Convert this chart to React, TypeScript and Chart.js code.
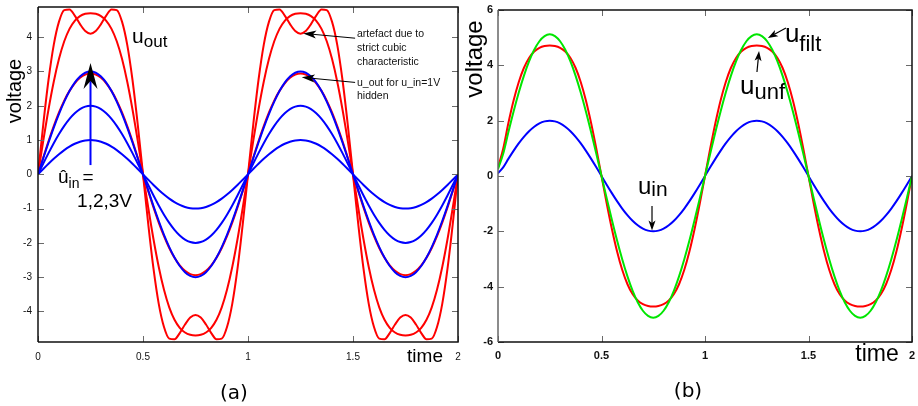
import React, { useEffect, useRef } from "react";
import { Chart, registerables } from "chart.js";

Chart.register(...registerables);

const FONT = '"Liberation Sans", Arial, Helvetica, sans-serif';

// ---------- shared axis data ----------
const TIME = [
  0, 0.025, 0.05, 0.075, 0.1, 0.125, 0.15, 0.175, 0.2, 0.225,
  0.25, 0.275, 0.3, 0.325, 0.35, 0.375, 0.4, 0.425, 0.45, 0.475,
  0.5, 0.525, 0.55, 0.575, 0.6, 0.625, 0.65, 0.675, 0.7, 0.725,
  0.75, 0.775, 0.8, 0.825, 0.85, 0.875, 0.9, 0.925, 0.95, 0.975,
  1, 1.025, 1.05, 1.075, 1.1, 1.125, 1.15, 1.175, 1.2, 1.225,
  1.25, 1.275, 1.3, 1.325, 1.35, 1.375, 1.4, 1.425, 1.45, 1.475,
  1.5, 1.525, 1.55, 1.575, 1.6, 1.625, 1.65, 1.675, 1.7, 1.725,
  1.75, 1.775, 1.8, 1.825, 1.85, 1.875, 1.9, 1.925, 1.95, 1.975,
  2,
];
const X_TICKS = [0, 0.5, 1, 1.5, 2];
const Y_TICKS_A = [-4, -3, -2, -1, 0, 1, 2, 3, 4];
const Y_TICKS_B = [-6, -4, -2, 0, 2, 4, 6];

// ---------- panel (a): inputs (blue) ----------
const A_IN_1V = [
  0, 0.156, 0.309, 0.454, 0.588, 0.707, 0.809, 0.891, 0.951, 0.988,
  1, 0.988, 0.951, 0.891, 0.809, 0.707, 0.588, 0.454, 0.309, 0.156,
  0, -0.156, -0.309, -0.454, -0.588, -0.707, -0.809, -0.891, -0.951, -0.988,
  -1, -0.988, -0.951, -0.891, -0.809, -0.707, -0.588, -0.454, -0.309, -0.156,
  0, 0.156, 0.309, 0.454, 0.588, 0.707, 0.809, 0.891, 0.951, 0.988,
  1, 0.988, 0.951, 0.891, 0.809, 0.707, 0.588, 0.454, 0.309, 0.156,
  0, -0.156, -0.309, -0.454, -0.588, -0.707, -0.809, -0.891, -0.951, -0.988,
  -1, -0.988, -0.951, -0.891, -0.809, -0.707, -0.588, -0.454, -0.309, -0.156,
  0,
];
const A_IN_2V = [
  0, 0.313, 0.618, 0.908, 1.176, 1.414, 1.618, 1.782, 1.902, 1.975,
  2, 1.975, 1.902, 1.782, 1.618, 1.414, 1.176, 0.908, 0.618, 0.313,
  0, -0.313, -0.618, -0.908, -1.176, -1.414, -1.618, -1.782, -1.902, -1.975,
  -2, -1.975, -1.902, -1.782, -1.618, -1.414, -1.176, -0.908, -0.618, -0.313,
  0, 0.313, 0.618, 0.908, 1.176, 1.414, 1.618, 1.782, 1.902, 1.975,
  2, 1.975, 1.902, 1.782, 1.618, 1.414, 1.176, 0.908, 0.618, 0.313,
  0, -0.313, -0.618, -0.908, -1.176, -1.414, -1.618, -1.782, -1.902, -1.975,
  -2, -1.975, -1.902, -1.782, -1.618, -1.414, -1.176, -0.908, -0.618, -0.313,
  0,
];
const A_IN_3V = [
  0, 0.469, 0.927, 1.362, 1.763, 2.121, 2.427, 2.673, 2.853, 2.963,
  3, 2.963, 2.853, 2.673, 2.427, 2.121, 1.763, 1.362, 0.927, 0.469,
  0, -0.469, -0.927, -1.362, -1.763, -2.121, -2.427, -2.673, -2.853, -2.963,
  -3, -2.963, -2.853, -2.673, -2.427, -2.121, -1.763, -1.362, -0.927, -0.469,
  0, 0.469, 0.927, 1.362, 1.763, 2.121, 2.427, 2.673, 2.853, 2.963,
  3, 2.963, 2.853, 2.673, 2.427, 2.121, 1.763, 1.362, 0.927, 0.469,
  0, -0.469, -0.927, -1.362, -1.763, -2.121, -2.427, -2.673, -2.853, -2.963,
  -3, -2.963, -2.853, -2.673, -2.427, -2.121, -1.763, -1.362, -0.927, -0.469,
  0,
];
// ---------- panel (a): outputs (red) ----------
const A_OUT_1V = [
  0, 0.49, 0.964, 1.406, 1.804, 2.149, 2.434, 2.656, 2.814, 2.909,
  2.94, 2.909, 2.814, 2.656, 2.434, 2.149, 1.804, 1.406, 0.964, 0.49,
  0, -0.49, -0.964, -1.406, -1.804, -2.149, -2.434, -2.656, -2.814, -2.909,
  -2.94, -2.909, -2.814, -2.656, -2.434, -2.149, -1.804, -1.406, -0.964, -0.49,
  0, 0.49, 0.964, 1.406, 1.804, 2.149, 2.434, 2.656, 2.814, 2.909,
  2.94, 2.909, 2.814, 2.656, 2.434, 2.149, 1.804, 1.406, 0.964, 0.49,
  0, -0.49, -0.964, -1.406, -1.804, -2.149, -2.434, -2.656, -2.814, -2.909,
  -2.94, -2.909, -2.814, -2.656, -2.434, -2.149, -1.804, -1.406, -0.964, -0.49,
  0,
];
const A_OUT_2V = [
  0, 0.975, 1.892, 2.701, 3.368, 3.88, 4.243, 4.477, 4.613, 4.681,
  4.7, 4.681, 4.613, 4.477, 4.243, 3.88, 3.368, 2.701, 1.892, 0.975,
  0, -0.975, -1.892, -2.701, -3.368, -3.88, -4.243, -4.477, -4.613, -4.681,
  -4.7, -4.681, -4.613, -4.477, -4.243, -3.88, -3.368, -2.701, -1.892, -0.975,
  0, 0.975, 1.892, 2.701, 3.368, 3.88, 4.243, 4.477, 4.613, 4.681,
  4.7, 4.681, 4.613, 4.477, 4.243, 3.88, 3.368, 2.701, 1.892, 0.975,
  0, -0.975, -1.892, -2.701, -3.368, -3.88, -4.243, -4.477, -4.613, -4.681,
  -4.7, -4.681, -4.613, -4.477, -4.243, -3.88, -3.368, -2.701, -1.892, -0.975,
  0,
];
const A_OUT_3V = [
  0, 1.452, 2.751, 3.776, 4.453, 4.79, 4.81, 4.629, 4.381, 4.178,
  4.1, 4.178, 4.381, 4.629, 4.81, 4.79, 4.453, 3.776, 2.751, 1.452,
  0, -1.452, -2.751, -3.776, -4.453, -4.79, -4.81, -4.629, -4.381, -4.178,
  -4.1, -4.178, -4.381, -4.629, -4.81, -4.79, -4.453, -3.776, -2.751, -1.452,
  0, 1.452, 2.751, 3.776, 4.453, 4.79, 4.81, 4.629, 4.381, 4.178,
  4.1, 4.178, 4.381, 4.629, 4.81, 4.79, 4.453, 3.776, 2.751, 1.452,
  0, -1.452, -2.751, -3.776, -4.453, -4.79, -4.81, -4.629, -4.381, -4.178,
  -4.1, -4.178, -4.381, -4.629, -4.81, -4.79, -4.453, -3.776, -2.751, -1.452,
  0,
];

// ---------- panel (b) ----------
const B_U_IN = [
  0.1, 0.313, 0.618, 0.908, 1.176, 1.414, 1.618, 1.782, 1.902, 1.975,
  2, 1.975, 1.902, 1.782, 1.618, 1.414, 1.176, 0.908, 0.618, 0.313,
  0, -0.313, -0.618, -0.908, -1.176, -1.414, -1.618, -1.782, -1.902, -1.975,
  -2, -1.975, -1.902, -1.782, -1.618, -1.414, -1.176, -0.908, -0.618, -0.313,
  0, 0.313, 0.618, 0.908, 1.176, 1.414, 1.618, 1.782, 1.902, 1.975,
  2, 1.975, 1.902, 1.782, 1.618, 1.414, 1.176, 0.908, 0.618, 0.313,
  0, -0.313, -0.618, -0.908, -1.176, -1.414, -1.618, -1.782, -1.902, -1.975,
  -2, -1.975, -1.902, -1.782, -1.618, -1.414, -1.176, -0.908, -0.618, -0.313,
  0,
];
const B_U_UNF = [
  0.3, 0.983, 1.906, 2.72, 3.39, 3.903, 4.266, 4.499, 4.635, 4.701,
  4.72, 4.701, 4.635, 4.499, 4.266, 3.903, 3.39, 2.72, 1.906, 0.983,
  0, -0.983, -1.906, -2.72, -3.39, -3.903, -4.266, -4.499, -4.635, -4.701,
  -4.72, -4.701, -4.635, -4.499, -4.266, -3.903, -3.39, -2.72, -1.906, -0.983,
  0, 0.983, 1.906, 2.72, 3.39, 3.903, 4.266, 4.499, 4.635, 4.701,
  4.72, 4.701, 4.635, 4.499, 4.266, 3.903, 3.39, 2.72, 1.906, 0.983,
  0, -0.983, -1.906, -2.72, -3.39, -3.903, -4.266, -4.499, -4.635, -4.701,
  -4.72, -4.701, -4.635, -4.499, -4.266, -3.903, -3.39, -2.72, -1.906, -0.983,
  0,
];
const B_U_FILT = [
  0.25, 0.801, 1.582, 2.325, 3.01, 3.62, 4.142, 4.562, 4.87, 5.057,
  5.12, 5.057, 4.87, 4.562, 4.142, 3.62, 3.01, 2.325, 1.582, 0.801,
  0, -0.801, -1.582, -2.325, -3.01, -3.62, -4.142, -4.562, -4.87, -5.057,
  -5.12, -5.057, -4.87, -4.562, -4.142, -3.62, -3.01, -2.325, -1.582, -0.801,
  0, 0.801, 1.582, 2.325, 3.01, 3.62, 4.142, 4.562, 4.87, 5.057,
  5.12, 5.057, 4.87, 4.562, 4.142, 3.62, 3.01, 2.325, 1.582, 0.801,
  0, -0.801, -1.582, -2.325, -3.01, -3.62, -4.142, -4.562, -4.87, -5.057,
  -5.12, -5.057, -4.87, -4.562, -4.142, -3.62, -3.01, -2.325, -1.582, -0.801,
  0,
];

const RED = "#ff0000";
const BLUE = "#0000ff";
const GREEN = "#00e600";

const pts = (ys: number[]) => TIME.map((t, i) => ({ x: t, y: ys[i] }));

// ---------- drawing helpers ----------
function arrow(ctx: any, x1: number, y1: number, x2: number, y2: number, o: any) {
  const dx = x2 - x1, dy = y2 - y1;
  const L = Math.hypot(dx, dy) || 1;
  const ux = dx / L, uy = dy / L;
  const nx = -uy, ny = ux;
  const bx = x2 - ux * o.len, by = y2 - uy * o.len;
  const mx = x2 - ux * o.len * o.notch, my = y2 - uy * o.len * o.notch;
  ctx.save();
  ctx.strokeStyle = o.line;
  ctx.lineWidth = o.lw;
  ctx.beginPath();
  ctx.moveTo(x1, y1);
  ctx.lineTo(mx, my);
  ctx.stroke();
  ctx.fillStyle = o.head;
  ctx.beginPath();
  ctx.moveTo(x2, y2);
  ctx.lineTo(bx + nx * o.hw, by + ny * o.hw);
  ctx.lineTo(mx, my);
  ctx.lineTo(bx - nx * o.hw, by - ny * o.hw);
  ctx.closePath();
  ctx.fill();
  ctx.restore();
}

function label(ctx: any, x: number, y: number, main: string, size: number, sub?: string, subSize?: number, subDy?: number) {
  ctx.save();
  ctx.fillStyle = "#000";
  ctx.textAlign = "left";
  ctx.textBaseline = "alphabetic";
  ctx.font = `${size}px ${FONT}`;
  ctx.fillText(main, x, y);
  if (sub) {
    const w = ctx.measureText(main).width;
    ctx.font = `${subSize}px ${FONT}`;
    ctx.fillText(sub, x + w, y + (subDy || 0));
  }
  ctx.restore();
}

function centered(ctx: any, s: string, x: number, y: number, size: number, rotate = false) {
  ctx.save();
  ctx.fillStyle = "#000";
  ctx.font = `${size}px ${FONT}`;
  ctx.textAlign = "center";
  ctx.textBaseline = "middle";
  ctx.translate(x, y);
  if (rotate) ctx.rotate(-Math.PI / 2);
  ctx.fillText(s, 0, 0);
  ctx.restore();
}

function framePlugin(yTicks: number[], leftColor: string) {
  return {
    id: "frame",
    afterDatasetsDraw(chart: any) {
      const { ctx, chartArea: a, scales } = chart;
      const xs = scales.x, ys = scales.y;
      ctx.save();
      ctx.strokeStyle = "#6a6a6a";
      ctx.lineWidth = 1;
      ctx.beginPath();
      for (const v of yTicks) {
        const p = Math.round(ys.getPixelForValue(v)) + 0.5;
        ctx.moveTo(a.left, p); ctx.lineTo(a.left + 6, p);
        ctx.moveTo(a.right, p); ctx.lineTo(a.right - 6, p);
      }
      for (const v of X_TICKS) {
        const p = Math.round(xs.getPixelForValue(v)) + 0.5;
        ctx.moveTo(p, a.bottom); ctx.lineTo(p, a.bottom - 6);
        ctx.moveTo(p, a.top); ctx.lineTo(p, a.top + 6);
      }
      ctx.stroke();
      ctx.lineWidth = 1.5;
      ctx.strokeStyle = "#111";
      ctx.beginPath();
      ctx.moveTo(a.left, a.top); ctx.lineTo(a.right, a.top);
      ctx.lineTo(a.right, a.bottom); ctx.lineTo(a.left, a.bottom);
      ctx.stroke();
      ctx.strokeStyle = leftColor;
      ctx.beginPath();
      ctx.moveTo(a.left, a.top); ctx.lineTo(a.left, a.bottom);
      ctx.stroke();
      ctx.restore();
    },
  };
}

const annotA = {
  id: "annotA",
  afterDraw(chart: any) {
    const { ctx, chartArea: a, scales } = chart;
    const px = (t: number) => scales.x.getPixelForValue(t);
    const py = (v: number) => scales.y.getPixelForValue(v);
    // amplitude arrow
    arrow(ctx, px(0.25), py(0.27), px(0.25), py(3.25), { line: BLUE, head: "#000", lw: 2, len: 26, hw: 7, notch: 0.7 });
    label(ctx, px(0.448), py(3.83), "u", 21, "out", 17, 4);
    label(ctx, px(0.095), py(-0.25), "û", 19, "in", 14, 5);
    label(ctx, px(0.212), py(-0.25), "=", 19);
    label(ctx, px(0.186), py(-0.95), "1,2,3V", 19);
    // notes
    ctx.save();
    ctx.fillStyle = "#111";
    ctx.font = `10.5px ${FONT}`;
    ctx.textAlign = "left";
    ctx.textBaseline = "middle";
    ctx.fillText("artefact due to", px(1.519), py(4.09));
    ctx.fillText("strict cubic", px(1.519), py(3.68));
    ctx.fillText("characteristic", px(1.519), py(3.27));
    ctx.fillText("u_out for u_in=1V", px(1.519), py(2.66));
    ctx.fillText("hidden", px(1.519), py(2.28));
    ctx.restore();
    arrow(ctx, px(1.51), py(3.97), px(1.263), py(4.11), { line: "#000", head: "#000", lw: 1, len: 13, hw: 4, notch: 0.75 });
    arrow(ctx, px(1.51), py(2.68), px(1.256), py(2.83), { line: "#000", head: "#000", lw: 1, len: 13, hw: 4, notch: 0.75 });
    // axis titles
    centered(ctx, "voltage", a.left - 23, a.top + 84, 20, true);
    centered(ctx, "time", a.right - 33, a.bottom + 15, 19);
  },
};

const annotB = {
  id: "annotB",
  afterDraw(chart: any) {
    const { ctx, chartArea: a, scales } = chart;
    const px = (t: number) => scales.x.getPixelForValue(t);
    const py = (v: number) => scales.y.getPixelForValue(v);
    label(ctx, px(1.386), py(4.84), "u", 26, "filt", 22, 9);
    arrow(ctx, px(1.391), py(5.35), px(1.304), py(4.99), { line: "#000", head: "#000", lw: 1.2, len: 10, hw: 3.5, notch: 0.75 });
    label(ctx, px(1.169), py(2.96), "u", 26, "unf", 22, 5);
    arrow(ctx, px(1.251), py(3.76), px(1.261), py(4.52), { line: "#000", head: "#000", lw: 1.2, len: 10, hw: 3.5, notch: 0.75 });
    label(ctx, px(0.676), py(-0.65), "u", 24, "in", 21, 2);
    arrow(ctx, px(0.744), py(-1.08), px(0.744), py(-1.97), { line: "#000", head: "#000", lw: 1.2, len: 10, hw: 3.5, notch: 0.75 });
    centered(ctx, "voltage", a.left - 23, a.top + 49, 24, true);
    centered(ctx, "time", a.right - 35, a.bottom + 13, 23);
  },
};

function noPad(s: any) {
  s.paddingTop = 0;
  s.paddingBottom = 0;
  s.paddingLeft = 0;
  s.paddingRight = 0;
}

function baseOptions(yMin: number, yMax: number, yTicks: number[], pad: any, tickFont: any, xPad: number, yPad: number) {
  return {
    responsive: true,
    maintainAspectRatio: false,
    animation: false,
    layout: { padding: pad },
    plugins: { legend: { display: false }, tooltip: { enabled: false } },
    elements: { point: { radius: 0 }, line: { borderWidth: 2, cubicInterpolationMode: "monotone" } },
    scales: {
      x: {
        type: "linear",
        min: 0,
        max: 2,
        grid: { display: false, drawTicks: false },
        border: { display: false },
        afterBuildTicks: (s: any) => { s.ticks = X_TICKS.map((v) => ({ value: v })); },
        afterFit: (s: any) => { s.height = 64; noPad(s); },
        ticks: { padding: xPad, color: "#111", font: tickFont, maxRotation: 0, autoSkip: false, callback: (v: any) => String(v) },
      },
      y: {
        type: "linear",
        min: yMin,
        max: yMax,
        grid: { display: false, drawTicks: false },
        border: { display: false },
        afterBuildTicks: (s: any) => { s.ticks = yTicks.map((v) => ({ value: v })); },
        afterFit: (s: any) => { s.width = 38; noPad(s); },
        ticks: { padding: yPad, color: "#111", font: tickFont, autoSkip: false, callback: (v: any) => String(v) },
      },
    },
  };
}

function makeA(canvas: HTMLCanvasElement) {
  return new Chart(canvas, {
    type: "line",
    data: {
      datasets: [
        { label: "u_in 1V", data: pts(A_IN_1V), borderColor: BLUE, order: 1 },
        { label: "u_in 2V", data: pts(A_IN_2V), borderColor: BLUE, order: 1 },
        { label: "u_in 3V", data: pts(A_IN_3V), borderColor: BLUE, order: 1 },
        { label: "u_out 1V", data: pts(A_OUT_1V), borderColor: RED, order: 2 },
        { label: "u_out 2V", data: pts(A_OUT_2V), borderColor: RED, order: 2 },
        { label: "u_out 3V", data: pts(A_OUT_3V), borderColor: RED, order: 2 },
      ],
    },
    options: baseOptions(-4.89, 4.88, Y_TICKS_A, { left: 0, top: 7, right: 22, bottom: 0 }, { family: FONT, size: 10 }, 9, 6) as any,
    plugins: [framePlugin(Y_TICKS_A, "#111"), annotA],
  } as any);
}

function makeB(canvas: HTMLCanvasElement) {
  return new Chart(canvas, {
    type: "line",
    data: {
      datasets: [
        { label: "u_filt", data: pts(B_U_FILT), borderColor: GREEN, order: 1 },
        { label: "u_unf", data: pts(B_U_UNF), borderColor: RED, order: 2 },
        { label: "u_in", data: pts(B_U_IN), borderColor: BLUE, order: 3 },
      ],
    },
    options: baseOptions(-6, 6, Y_TICKS_B, { left: 0, top: 10, right: 6, bottom: 0 }, { family: FONT, size: 11, weight: "bold" }, 7, 5) as any,
    plugins: [framePlugin(Y_TICKS_B, "#666"), annotB],
  } as any);
}

function ChartBox({ left, width, make }: { left: number; width: number; make: (c: HTMLCanvasElement) => Chart }) {
  const ref = useRef<HTMLCanvasElement>(null);
  useEffect(() => {
    const chart = make(ref.current!);
    return () => chart.destroy();
  }, []);
  return (
    <div style={{ position: "absolute", left, top: 0, width, height: 406 }}>
      <canvas ref={ref} />
    </div>
  );
}

export default function App() {
  const cap = { position: "absolute" as const, transform: "translate(-50%, -50%)", font: '20px "DejaVu Sans", sans-serif', whiteSpace: "nowrap" as const, color: "#000" };
  return (
    <div style={{ position: "absolute", left: 0, top: 0, width: 918, height: 406, background: "#fff", overflow: "hidden" }}>
      <ChartBox left={0} width={480} make={makeA} />
      <ChartBox left={460} width={458} make={makeB} />
      <div style={{ ...cap, left: 234, top: 392 }}>(a)</div>
      <div style={{ ...cap, left: 688, top: 390 }}>(b)</div>
    </div>
  );
}
